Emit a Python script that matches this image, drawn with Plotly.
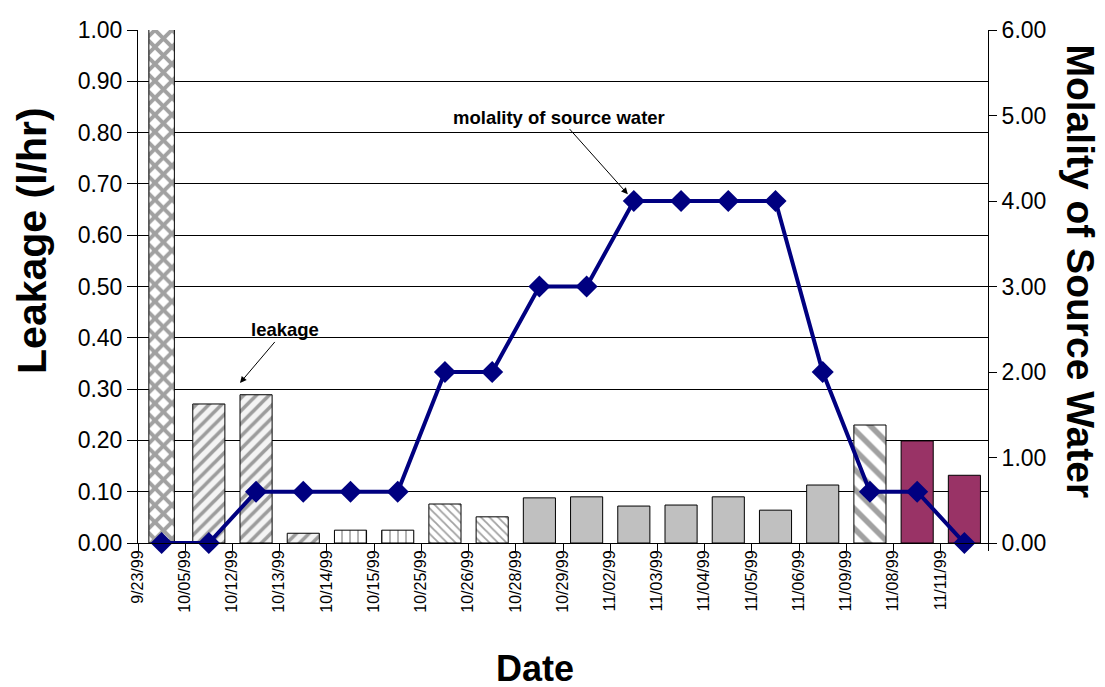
import plotly.graph_objects as go

FONT = "Liberation Sans, Arial, sans-serif"

dates = [
    "9/23/99", "10/05/99", "10/12/99", "10/13/99", "10/14/99", "10/15/99",
    "10/25/99", "10/26/99", "10/28/99", "10/29/99", "11/02/99", "11/03/99",
    "11/04/99", "11/05/99", "11/06/99", "11/09/99", "11/08/99", "11/11/99",
]
leakage = [
    1.20, 0.271, 0.289, 0.019, 0.025, 0.025,
    0.076, 0.051, 0.088, 0.090, 0.072, 0.074,
    0.090, 0.064, 0.113, 0.230, 0.199, 0.132,
]
molality = [
    0.0, 0.0, 0.6, 0.6, 0.6, 0.6,
    2.0, 2.0, 3.0, 3.0, 4.0, 4.0,
    4.0, 4.0, 2.0, 0.6, 0.6, 0.0,
]

# fill styles per bar, mimicking the old spreadsheet patterns
bar_shapes = ["x", "/", "/", "/", "|", "|", "\\", "\\", "", "", "", "", "", "", "", "\\", "", ""]
bar_fg = ["#484848", "#dadada", "#dadada", "#dadada", "#808080", "#808080", "#d4d4d4", "#d4d4d4",
          "#c0c0c0", "#c0c0c0", "#c0c0c0", "#c0c0c0", "#c0c0c0", "#c0c0c0", "#c0c0c0",
          "#404040", "#993366", "#993366"]
bar_bg = ["#ffffff", "#f4f4f4", "#f4f4f4", "#f4f4f4", "#ffffff", "#ffffff", "#ffffff", "#ffffff",
          "#c0c0c0", "#c0c0c0", "#c0c0c0", "#c0c0c0", "#c0c0c0", "#c0c0c0", "#c0c0c0",
          "#ffffff", "#993366", "#993366"]
bar_size = [12, 9, 9, 9, 8, 8, 6, 6, 8, 8, 8, 8, 8, 8, 8, 14, 8, 8]
bar_solidity = [0.55, 0.4, 0.4, 0.4, 0.2, 0.2, 0.3, 0.3, 0.3, 0.3, 0.3, 0.3, 0.3, 0.3, 0.3, 0.4, 0.3, 0.3]
bar_widths = [0.54] + [0.68] * 17

fig = go.Figure()
fig.add_trace(
    go.Bar(
        x=dates,
        y=leakage,
        width=bar_widths,
        marker=dict(
            color=bar_bg,
            line=dict(color="black", width=1),
            pattern=dict(
                shape=bar_shapes,
                fgcolor=bar_fg,
                bgcolor=bar_bg,
                size=bar_size,
                solidity=bar_solidity,
                fillmode="overlay",
            ),
        ),
        showlegend=False,
    )
)
fig.add_trace(
    go.Scatter(
        x=dates,
        y=molality,
        yaxis="y2",
        mode="lines+markers",
        line=dict(color="#000080", width=4),
        marker=dict(symbol="diamond", size=17, color="#000080"),
        cliponaxis=False,
        showlegend=False,
    )
)

# the page body adds a small offset, so margins are shifted to compensate
fig.update_layout(
    width=1105,
    height=687,
    margin=dict(l=130, r=125, t=22, b=152),
    paper_bgcolor="white",
    plot_bgcolor="white",
    font=dict(family=FONT, color="black"),
    bargap=0.3,
    xaxis=dict(
        type="category",
        range=[-0.5, len(dates) - 0.5],
        automargin=False,
        tickson="boundaries",
        ticks="outside",
        ticklen=7,
        tickcolor="black",
        tickangle=-90,
        tickfont=dict(size=16),
        ticklabelshift=-24,
        showline=True,
        linecolor="black",
        linewidth=1,
        showgrid=False,
    ),
    yaxis=dict(
        range=[0, 1],
        automargin=False,
        dtick=0.1,
        tickformat=".2f",
        tickfont=dict(size=23),
        showgrid=True,
        gridcolor="black",
        gridwidth=1,
        showline=True,
        linecolor="black",
        ticks="outside",
        ticklen=10,
        tickcolor="black",
        zeroline=False,
    ),
    yaxis2=dict(
        overlaying="y",
        side="right",
        range=[0, 6],
        automargin=False,
        dtick=1,
        tickformat=".2f",
        tickfont=dict(size=23),
        showgrid=False,
        showline=True,
        linecolor="black",
        ticks="outside",
        ticklen=8,
        tickcolor="black",
        zeroline=False,
    ),
    annotations=[
        dict(text="<b>Leakage (l/hr)</b>", xref="paper", yref="paper", x=-0.124, y=0.59,
             xanchor="center", yanchor="middle",
             textangle=-90, showarrow=False, font=dict(size=41)),
        dict(text="<b>Molality of Source Water</b>", xref="paper", yref="paper", x=1.109, y=0.53,
             xanchor="center", yanchor="middle",
             textangle=90, showarrow=False, font=dict(size=39)),
        dict(text="<b>Date</b>", xref="paper", yref="paper", x=0.4675, y=-0.2437,
             xanchor="center", yanchor="middle",
             showarrow=False, font=dict(size=36)),
        dict(text="<b>molality of source water</b>", xref="x", yref="y2", x="11/02/99", y=4.0,
             ax=-75, ay=-84, standoff=9, showarrow=True, arrowhead=2, arrowsize=1.3,
             arrowwidth=1, arrowcolor="black", font=dict(size=18.5)),
        dict(text="<b>leakage</b>", xref="paper", yref="y", x=0.12, y=0.312,
             ax=45, ay=-53, showarrow=True, arrowhead=2, arrowsize=1.3,
             arrowwidth=1, arrowcolor="black", font=dict(size=18.5)),
    ],
)

fig.write_html("out.html")
